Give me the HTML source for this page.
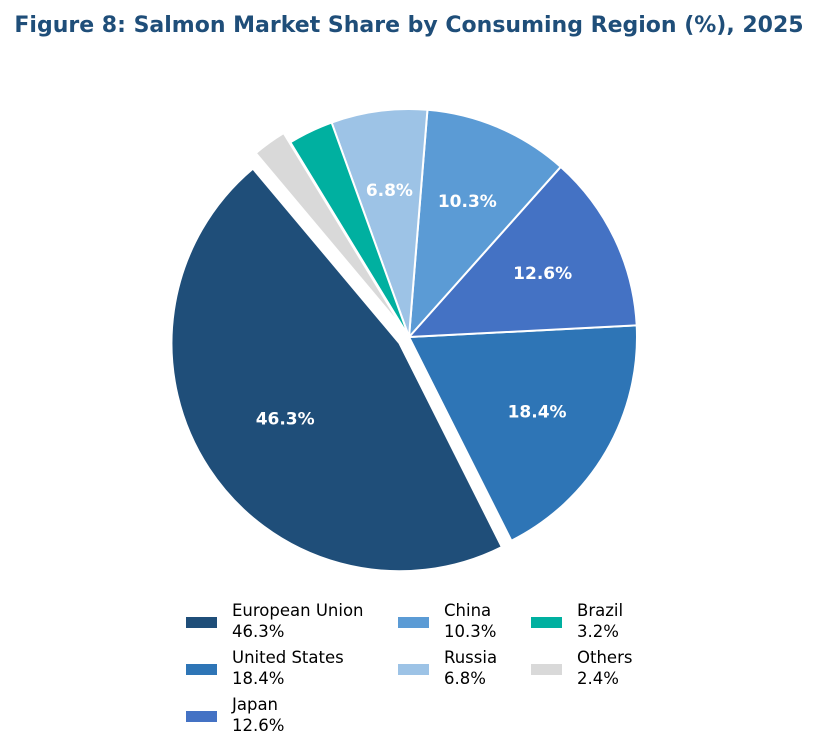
<!DOCTYPE html>
<html><head><meta charset="utf-8"><style>
body{margin:0;background:#fff;}
svg{display:block;font-family:"Liberation Sans","DejaVu Sans",sans-serif;}
</style></head><body>
<svg id="chart" width="818" height="756" viewBox="0 0 818 756">
<text x="409" y="32" text-anchor="middle" font-size="22" font-weight="bold" fill="#1f4e79" font-family="DejaVu Sans, sans-serif">Figure 8: Salmon Market Share by Consuming Region (%), 2025</text>
<g id="slices"></g><g id="labels"></g><g id="legend"></g>
</svg>
<script>
const categories=["European Union","United States","Japan","China","Russia","Brazil","Others"];
const values=[46.3,18.4,12.6,10.3,6.8,3.2,2.4];
const explodeFlags=[1,0,0,0,0,0,1];
const colors=["#1f4e79","#2e75b6","#4472c4","#5b9bd5","#9dc3e6","#00b0a0","#d9d9d9"];
const cx=409,cy=337,R=228,startAngle=130,ns="http://www.w3.org/2000/svg";
const total=values.reduce((a,b)=>a+b,0);
const sG=document.getElementById('slices'),lG=document.getElementById('labels'),gG=document.getElementById('legend');
const legendCol=[0,0,0,1,1,2,2],legendRow=[0,1,2,0,1,0,1];
let a=startAngle;
function pt(x,y,r,deg){const t=deg*Math.PI/180;return [x+r*Math.cos(t),y-r*Math.sin(t)];}
values.forEach((v,i)=>{
  const span=v/total*360,a0=a,a1=a+span,mid=(a0+a1)/2;a=a1;
  const off=explodeFlags[i]?0.05*R:0;
  const [ox,oy]=pt(cx,cy,off,mid);
  const [x0,y0]=pt(ox,oy,R,a0),[x1,y1]=pt(ox,oy,R,a1);
  const p=document.createElementNS(ns,'path');
  p.setAttribute('d',`M${ox},${oy}L${x0},${y0}A${R},${R} 0 ${span>180?1:0} 0 ${x1},${y1}Z`);
  p.setAttribute('fill',colors[i]);p.setAttribute('stroke','#fff');p.setAttribute('stroke-width','2');
  
  
  sG.appendChild(p);
  if(v>5){
    const [lx,ly]=pt(ox,oy,(explodeFlags[i]?0.6:0.65)*R,mid);
    const t=document.createElementNS(ns,'text');
    t.setAttribute('x',lx);t.setAttribute('y',ly+6);t.setAttribute('text-anchor','middle');
    t.setAttribute('font-size','17');t.setAttribute('font-weight','bold');t.setAttribute('fill','#fff');
    t.setAttribute('font-family','DejaVu Sans, sans-serif');
    t.textContent=v.toFixed(1)+'%';
    
    
    lG.appendChild(t);
  }
  const col=legendCol[i],row=legendRow[i];
  const colX=[186,398,531][col],rowY=[622,669,716][row];
  const g=document.createElementNS(ns,'g');
  
  
  const r=document.createElementNS(ns,'rect');
  r.setAttribute('x',colX);r.setAttribute('y',rowY-5);r.setAttribute('width',31);r.setAttribute('height',11);r.setAttribute('fill',colors[i]);
  g.appendChild(r);
  [categories[i],v.toFixed(1)+'%'].forEach((s,k)=>{
    const tt=document.createElementNS(ns,'text');
    tt.setAttribute('x',colX+46);tt.setAttribute('y',rowY-6+k*21);tt.setAttribute('font-size','16.5');tt.setAttribute('fill','#000');
    tt.setAttribute('font-family','DejaVu Sans, sans-serif');
    tt.textContent=s;g.appendChild(tt);
  });
  gG.appendChild(g);
});
</script>
</body></html>
